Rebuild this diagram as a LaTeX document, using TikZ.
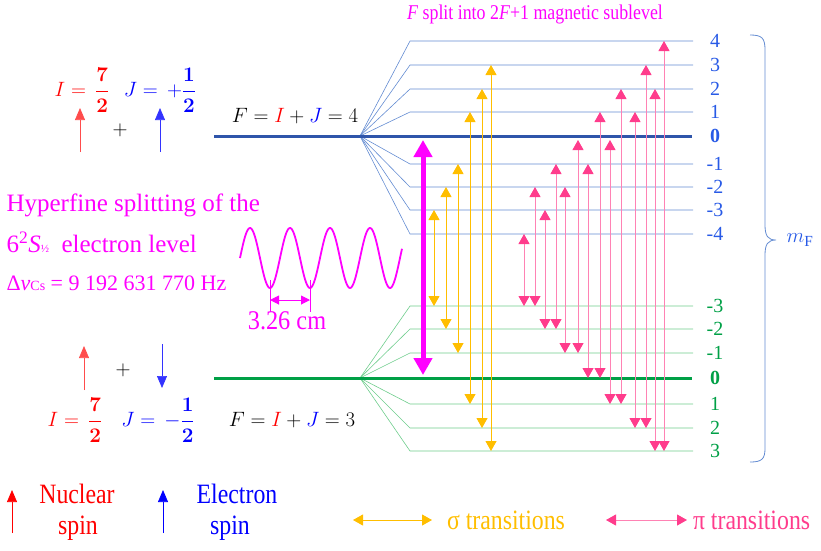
\documentclass[tikz,border=0pt]{standalone}
\usepackage{amsmath}
\usepackage{fontspec}
\setmainfont{Liberation Serif}
\usetikzlibrary{arrows.meta}
\definecolor{lblue}{RGB}{100,140,210}
\definecolor{dblue}{RGB}{47,85,170}
\definecolor{tblue}{RGB}{40,90,230}
\definecolor{lgreen}{RGB}{110,205,140}
\definecolor{dgreen}{RGB}{0,160,70}
\definecolor{orng}{RGB}{255,190,0}
\definecolor{pink}{RGB}{255,60,140}
\definecolor{lpink}{RGB}{255,130,180}
\definecolor{mag}{RGB}{255,0,255}
\tikzset{
 sig/.style={orng,line width=1pt,{Triangle[width=11pt,length=10pt]}-{Triangle[width=11pt,length=10pt]}},
 pit/.style={lpink,line width=1pt,{Triangle[width=11pt,length=10pt,pink]}-{Triangle[width=11pt,length=10pt,pink]}},
 spin/.style={line width=0.7pt,-{Triangle[width=10pt,length=12pt]}},
 lab/.style={font=\fontsize{20}{20}\selectfont},
 leg/.style={font=\fontsize{28}{28}\selectfont,xscale=0.85},
 eq/.style={font=\fontsize{21}{21}\selectfont},
}
\begin{document}
\begin{tikzpicture}[x=1pt,y=-1pt]
\useasboundingbox (0,0) rectangle (821,550);
% upper levels
\foreach \y/\m in {41/4,65/3,89/2,112/1,164/-1,187/-2,210/-3,234/-4}{
 \draw[lblue,line width=0.6pt] (360,136)--(410,\y)--(693,\y);
 \node[lab,tblue] at (715,\y) {\m};}
\draw[dblue,line width=3pt] (214,136)--(692,136);
\node[tblue,font=\bfseries\fontsize{20}{20}\selectfont] at (715,136) {0};
% lower levels
\foreach \y/\m in {306/-3,329/-2,353/-1,404/1,428/2,451/3}{
 \draw[lgreen,line width=0.6pt] (360,378)--(410,\y)--(693,\y);
 \node[lab,dgreen] at (715,\y) {\m};}
\draw[dgreen,line width=3pt] (214,378)--(692,378);
\node[dgreen,font=\bfseries\fontsize{20}{20}\selectfont] at (715,378) {0};
% brace
\draw[lblue,line width=0.8pt] (750,35) .. controls (762,35) and (765,38) .. (765,50) -- (765,225) .. controls (765,236) and (768,240) .. (776,240) .. controls (768,240) and (765,244) .. (765,255) -- (765,448) .. controls (765,459) and (762,462) .. (750,462);
\node[tblue,font=\fontsize{22}{22}\selectfont] at (800,240) {$m_{\mathrm{F}}$};
\node[mag,font=\fontsize{21}{21}\selectfont,xscale=0.85] at (535,14) {\textit{F} split into 2\textit{F}+1 magnetic sublevel};
% main transition
\draw[mag,line width=5pt,{Triangle[width=18pt,length=17pt]}-{Triangle[width=18pt,length=17pt]}] (423,140)--(423,375);
% sigma
\foreach \x/\a/\b in {434/210/306,446/187/329,458/164/353,470/112/404,482/89/428,491/65/451}
 \draw[sig] (\x,\b)--(\x,\a);
% pi
\foreach \x/\a/\b in {524/234/306,535/187/306,545/210/329,556/164/329,565/187/353,578/140/353,588/164/378,600/112/378,610/140/404,621/89/404,635/112/428,646/65/428,655/89/451,664/41/451}
 \draw[pit] (\x,\b)--(\x,\a);
% upper spin
\node[red,eq] at (82,90) {$I=\,\boldsymbol{\dfrac{7}{2}}$};
\node[blue,eq] at (160,90) {$J=\,+\boldsymbol{\dfrac{1}{2}}$};
\draw[spin,red!70] (80,152)--(80,108);
\draw[spin,blue!80] (160,152)--(160,108);
\node[font=\fontsize{20}{20}\selectfont] at (120,130) {$+$};
\node[eq] at (295,116) {$F=\textcolor{red}{I}+\textcolor{blue}{J}=4$};
% lower spin
\draw[spin,red!70] (84,390)--(84,346);
\draw[spin,blue!80] (162,344)--(162,388);
\node[font=\fontsize{20}{20}\selectfont] at (123,370) {$+$};
\node[red,eq] at (75,420) {$I=\,\boldsymbol{\dfrac{7}{2}}$};
\node[blue,eq] at (158,420) {$J=\,-\boldsymbol{\dfrac{1}{2}}$};
\node[eq] at (292,420) {$F=\textcolor{red}{I}+\textcolor{blue}{J}=3$};
% hyperfine text
\node[mag,anchor=west,font=\fontsize{25}{25}\selectfont] at (3,205) {Hyperfine splitting of the};
\node[mag,anchor=west,font=\fontsize{25}{25}\selectfont] at (3,242) {6\textsuperscript{2}\textit{S}{\fontsize{11}{11}\selectfont ½}\ \ electron level};
\node[mag,anchor=west,font=\fontsize{22}{22}\selectfont] at (3,283) {Δ\textit{ν}{\fontsize{14}{14}\selectfont Cs} = 9 192 631 770 Hz};
% wave
\draw[mag,line width=1.8pt,domain=240:402,samples=200,smooth] plot (\x,{258-30*sin(9*(\x-240))});
\draw[mag,line width=0.5pt] (270,280)--(270,312) (310,280)--(310,312);
\draw[mag,line width=1pt,{Triangle[width=9pt,length=9pt]}-{Triangle[width=9pt,length=9pt]}] (270,300)--(310,300);
\node[mag,font=\fontsize{27}{27}\selectfont,xscale=0.9] at (287,321) {3.26 cm};
% legend
\draw[spin,red] (12,533)--(12,490);
\node[red,leg] at (77,494) {Nuclear};
\node[red,leg] at (78,528) {spin};
\draw[spin,blue] (163,533)--(163,490);
\node[blue,leg] at (237,494) {Electron};
\node[blue,leg] at (230,528) {spin};
\draw[sig] (353,520)--(432,520);
\node[orng,leg,anchor=west] at (444,520) {σ transitions};
\draw[pit] (606,520)--(687,520);
\node[pink,leg,anchor=west] at (690,520) {π transitions};
\end{tikzpicture}
\end{document}
